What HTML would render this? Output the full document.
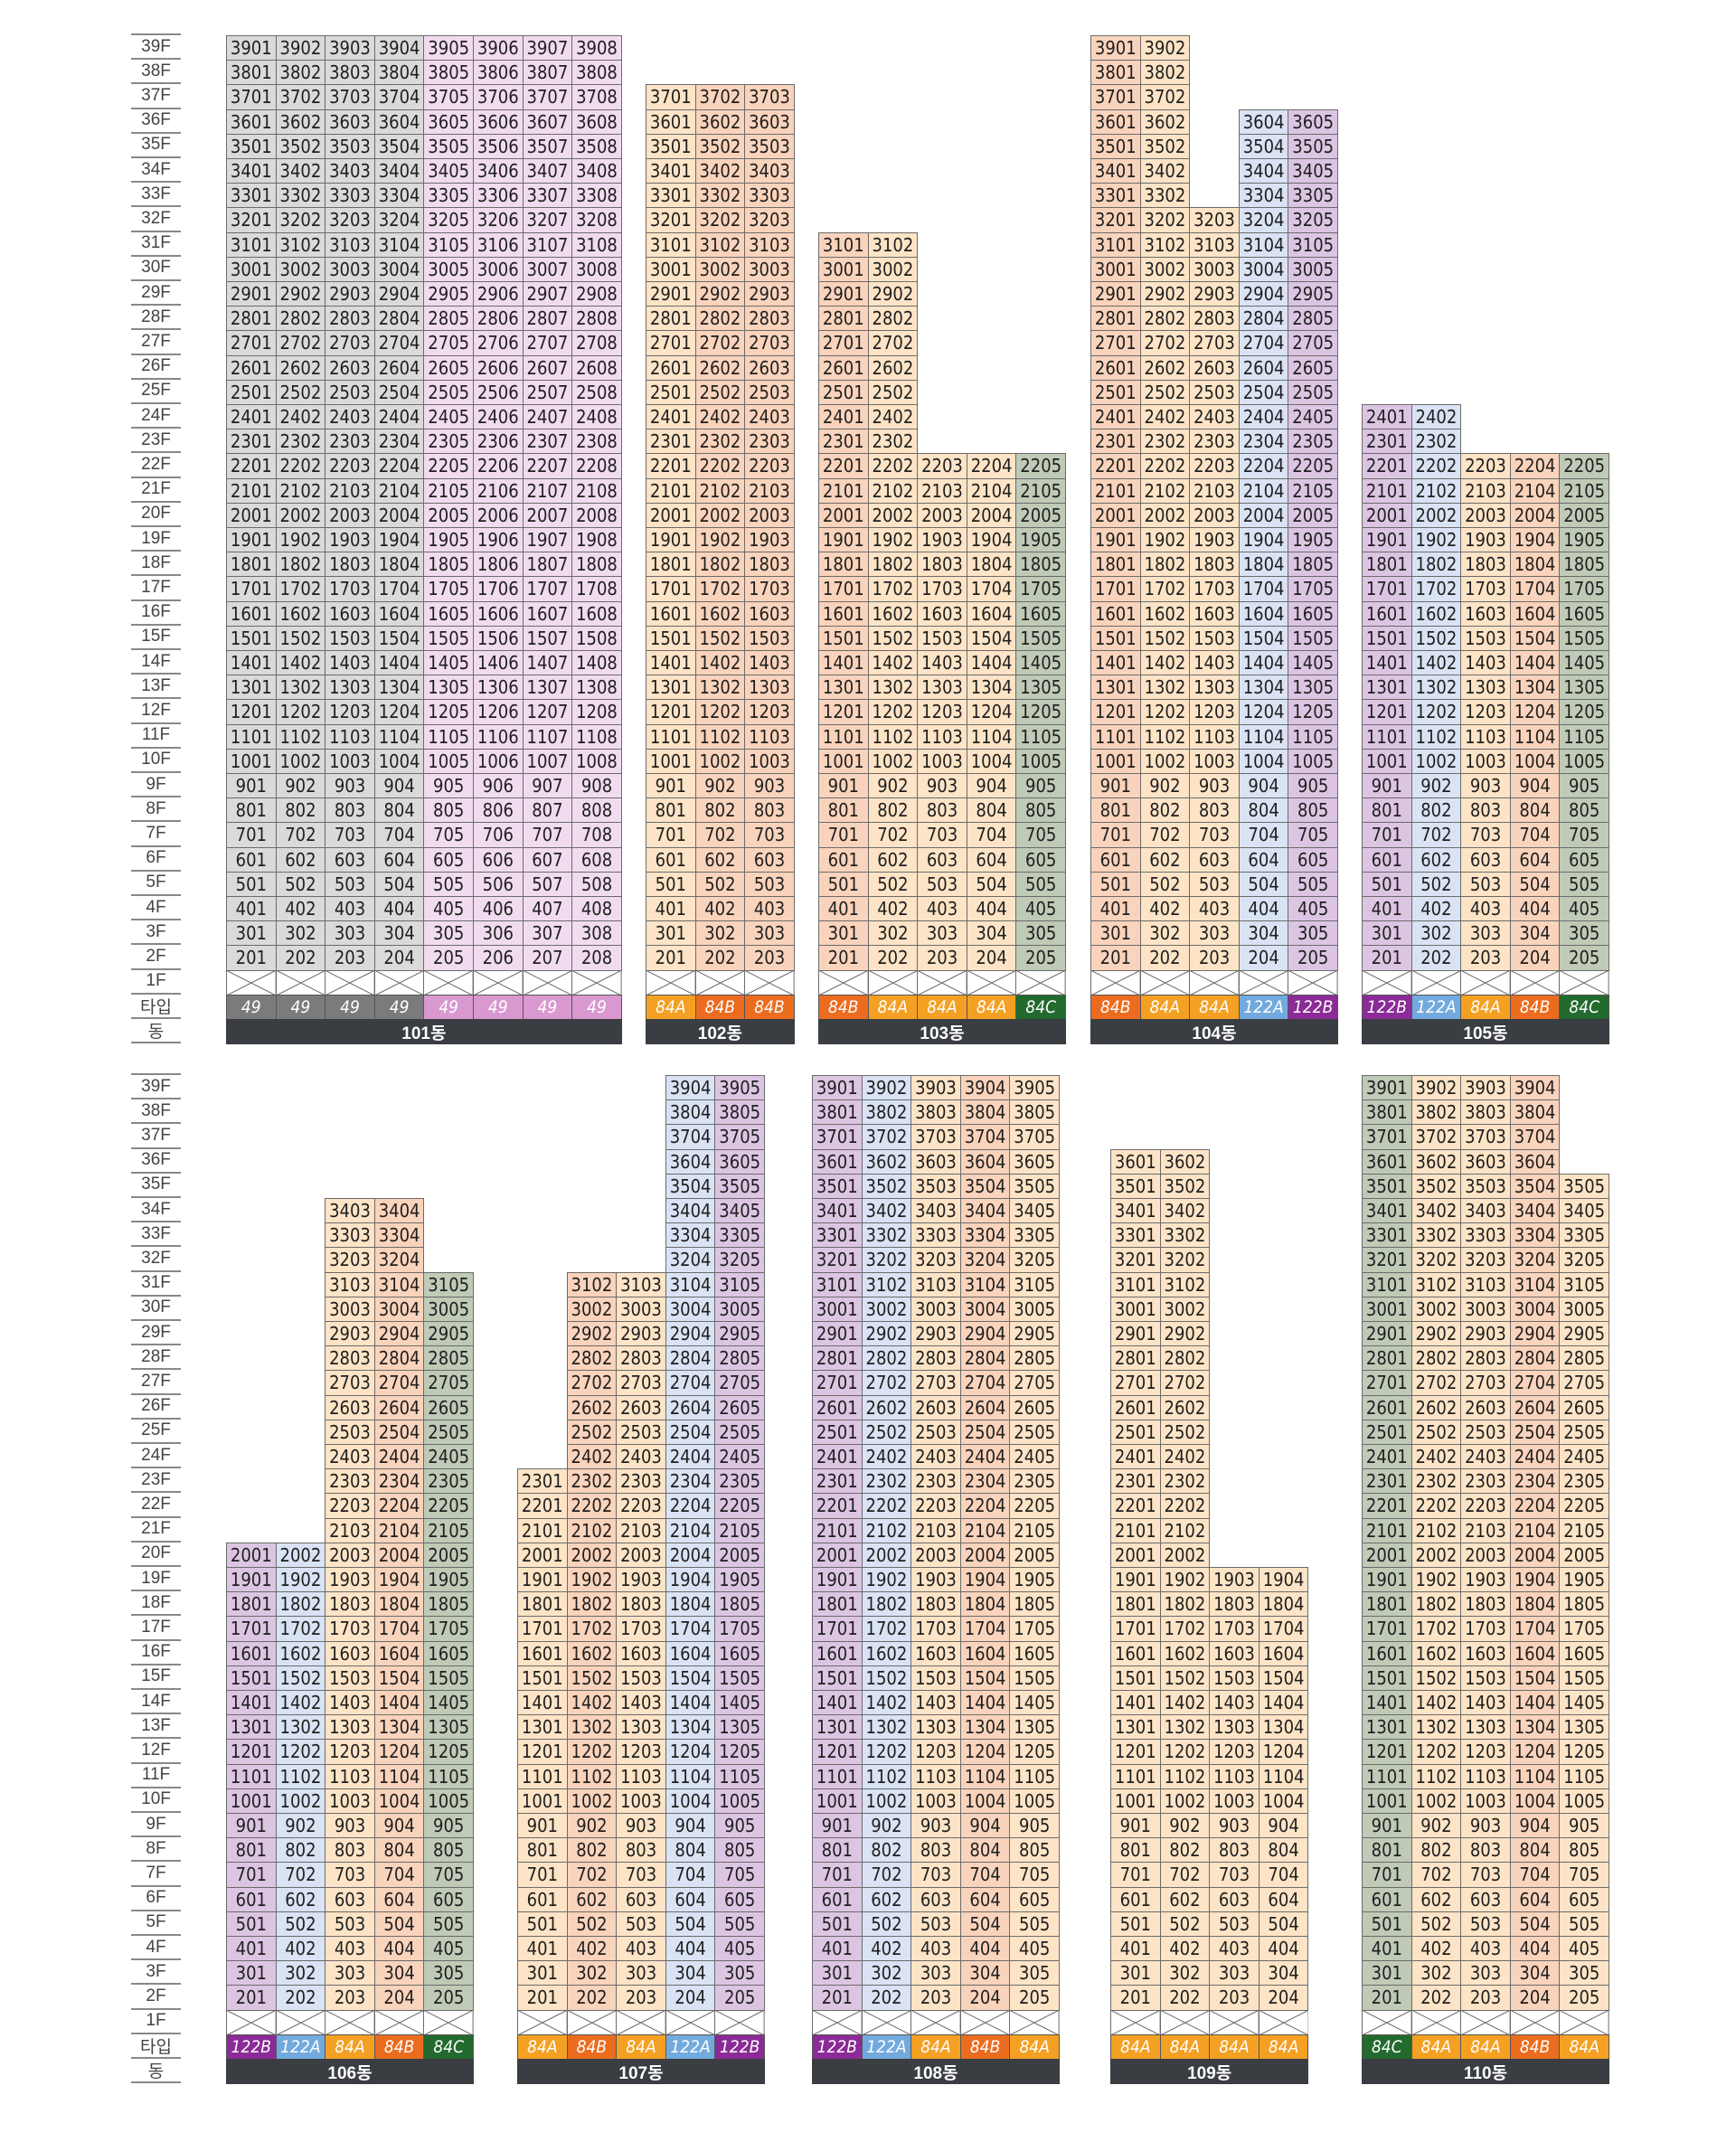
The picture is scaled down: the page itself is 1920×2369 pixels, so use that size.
<!DOCTYPE html>
<html><head><meta charset="utf-8">
<style>
html,body{margin:0;padding:0;background:#fff;}
body{width:1920px;height:2369px;position:relative;overflow:hidden;font-family:"Liberation Sans Narrow","DejaVu Sans Condensed","Liberation Sans","Noto Sans CJK KR",sans-serif;}
.c{position:absolute;box-sizing:border-box;border:1px solid #6b6b6b;display:flex;align-items:center;justify-content:center;font-size:20px;color:#1e1e1e;}
.t{color:#fff;font-style:italic;font-size:19px;border-color:#555;}
.d{position:absolute;background:#3a3d42;color:#fff;font-size:19px;font-weight:bold;display:flex;align-items:center;justify-content:center;font-family:"Liberation Sans Narrow","Liberation Sans","Noto Sans CJK KR",sans-serif;}
.lab{position:absolute;left:145px;width:55px;text-align:center;font-size:19px;color:#444;border-bottom:2px solid #888;box-sizing:border-box;display:flex;align-items:center;justify-content:center;font-family:"Liberation Sans","Noto Sans CJK KR",sans-serif;}
</style></head>
<body>
<script>
// ---- data ----
const buildingNames = ["101동","102동","103동","104동","105동","106동","107동","108동","109동","110동"];
const buildingTypes = [
  ["49g","49g","49g","49g","49p","49p","49p","49p"],
  ["84A","84B","84B"],
  ["84B","84A","84A","84A","84C"],
  ["84B","84A","84A","122A","122B"],
  ["122B","122A","84A","84B","84C"],
  ["122B","122A","84A","84B","84C"],
  ["84A","84B","84A","122A","122B"],
  ["122B","122A","84A","84B","84A"],
  ["84A","84A","84A","84A"],
  ["84C","84A","84A","84B","84A"]
];
const buildingTopFloors = [
  [39,39,39,39,39,39,39,39],
  [37,37,37],
  [31,31,22,22,22],
  [39,39,32,36,36],
  [24,24,22,22,22],
  [20,20,34,34,31],
  [23,31,31,39,39],
  [39,39,39,39,39],
  [36,36,19,19],
  [39,39,39,39,35]
];
const floorLabels = ["39F","38F","37F","36F","35F","34F","33F","32F","31F","30F","29F","28F","27F","26F","25F","24F","23F","22F","21F","20F","19F","18F","17F","16F","15F","14F","13F","12F","11F","10F","9F","8F","7F","6F","5F","4F","3F","2F","1F","타입","동"];

// ---- layout ----
const blockX = [250,714,905,1206,1506, 250,572,898,1228,1506];
const sectionY = [39,1189];
const RH = 27.2, CW = 54.6;
const cellBg = {"49g":"#dadada","49p":"#f1dcef","84A":"#fde4c6","84B":"#f9d3bb","84C":"#bfcab7","122A":"#d9e3f4","122B":"#dcc5e3"};
const typeBg = {"49g":"#7b7b7d","49p":"#d998cf","84A":"#f4a023","84B":"#ec6c1f","84C":"#226a2e","122A":"#72aade","122B":"#8b2b97"};
const typeText = {"49g":"49","49p":"49","84A":"84A","84B":"84B","84C":"84C","122A":"122A","122B":"122B"};
const body = document.body;
const yOf = (s, row) => sectionY[s] + row*RH;

for (let s=0;s<2;s++){
  const top = document.createElement('div');
  top.className='lab';
  top.style.top=(yOf(s,0)-2)+'px';top.style.height='2px';top.style.borderBottom='2px solid #888';
  
  
  body.appendChild(top);
  floorLabels.forEach((f,i)=>{
    const l=document.createElement('div');
    l.className='lab';
    l.style.top=yOf(s,i)+'px';l.style.height=RH+'px';
    l.textContent=f;
    
    
    body.appendChild(l);
  });
}

buildingNames.forEach((name,b)=>{
  const s = b<5?0:1;
  const x0 = blockX[b];
  const types = buildingTypes[b], tops = buildingTopFloors[b];
  types.forEach((tp,c)=>{
    const x = x0 + c*CW;
    for (let f=tops[c]; f>=2; f--){
      const row = 39-f;
      const d=document.createElement('div');
      d.className='c';
      d.style.left=x+'px';d.style.top=yOf(s,row)+'px';d.style.width=(CW+1)+'px';d.style.height=(RH+1)+'px';
      d.style.background=cellBg[tp];
      d.textContent = f*100 + (c+1);
      
      
      body.appendChild(d);
    }
    const p=document.createElementNS('http://www.w3.org/2000/svg','svg');
    p.setAttribute('width',CW+1);p.setAttribute('height',RH+1);
    p.style.position='absolute';p.style.left=x+'px';p.style.top=yOf(s,38)+'px';
    p.innerHTML='<rect x="0.5" y="0.5" width="'+CW+'" height="'+RH+'" fill="#fff" stroke="#6b6b6b"/><line x1="0" y1="0" x2="'+(CW+1)+'" y2="'+(RH+1)+'" stroke="#666"/><line x1="'+(CW+1)+'" y1="0" x2="0" y2="'+(RH+1)+'" stroke="#666"/>';
    
    
    body.appendChild(p);
    const t=document.createElement('div');
    t.className='c t';
    t.style.left=x+'px';t.style.top=yOf(s,39)+'px';t.style.width=(CW+1)+'px';t.style.height=(RH+1)+'px';
    t.style.background=typeBg[tp];
    t.textContent=typeText[tp];
    
    
    body.appendChild(t);
  });
  const d=document.createElement('div');
  d.className='d';
  d.style.left=x0+'px';d.style.top=yOf(s,40)+'px';
  d.style.width=(types.length*CW+1)+'px';d.style.height=(RH+1)+'px';
  d.textContent=name;
  
  
  body.appendChild(d);
});
</script>
</body></html>
